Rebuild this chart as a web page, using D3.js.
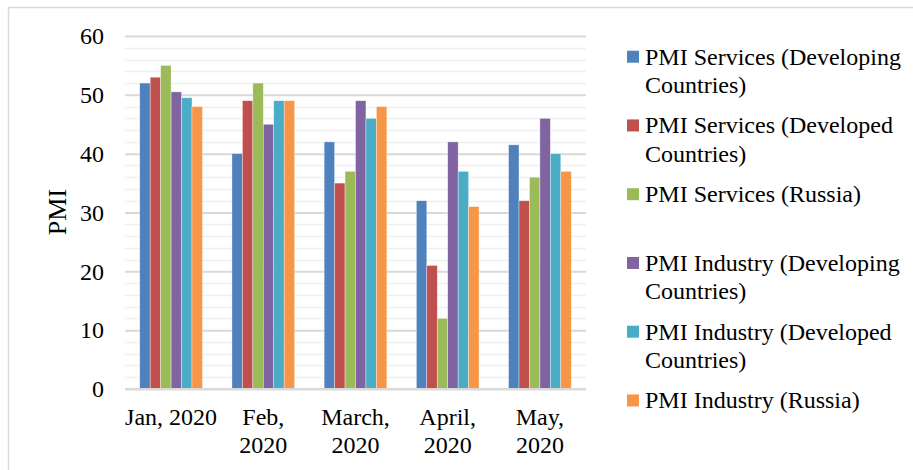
<!DOCTYPE html>
<html>
<head>
<meta charset="utf-8">
<script src="https://cdn.jsdelivr.net/npm/d3@7"></script>
<style>
  html, body { margin: 0; padding: 0; background: #ffffff; }
  svg text { font-family: "Liberation Serif", "Times New Roman", serif; }
</style>
</head>
<body>
<svg id="chart" width="913" height="470"></svg>
<script>
// Months shown along the x axis ("\n" marks a wrapped label line)
const categories = ["Jan, 2020", "Feb,\n2020", "March,\n2020", "April,\n2020", "May,\n2020"];

// Series names and their values per month
const seriesNames = [
  "PMI Services (Developing Countries)",
  "PMI Services (Developed Countries)",
  "PMI Services (Russia)",
  "PMI Industry (Developing Countries)",
  "PMI Industry (Developed Countries)",
  "PMI Industry (Russia)"
];
const servicesDeveloping = [52, 40, 42, 32, 41.5];
const servicesDeveloped  = [53, 49, 35, 21, 32];
const servicesRussia     = [55, 52, 37, 12, 36];
const industryDeveloping = [50.5, 45, 49, 42, 46];
const industryDeveloped  = [49.5, 49, 46, 37, 40];
const industryRussia     = [48, 49, 48, 31, 37];
const seriesValues = [servicesDeveloping, servicesDeveloped, servicesRussia,
                      industryDeveloping, industryDeveloped, industryRussia];

// Legend lines for each series
const legendLines = [
  ["PMI Services (Developing", "Countries)"],
  ["PMI Services (Developed", "Countries)"],
  ["PMI Services (Russia)"],
  ["PMI Industry (Developing", "Countries)"],
  ["PMI Industry (Developed", "Countries)"],
  ["PMI Industry (Russia)"]
];

const yTicks = [0, 10, 20, 30, 40, 50, 60];
const yLabel = "PMI";

const colors = ["#4F81BD", "#C0504D", "#9BBB59", "#8064A2", "#4BACC6", "#F79646"];

const svg = d3.select("#chart");

// outer frame
svg.append("rect")
  .attr("x", 8.5).attr("y", 7.5)
  .attr("width", 1000).attr("height", 1000)
  .attr("fill", "none").attr("stroke", "#d9d9d9").attr("stroke-width", 1.5);

const plot = { left: 125, right: 586, top: 36, bottom: 389 };

const y = d3.scaleLinear().domain([0, 60]).range([plot.bottom, plot.top]);
const x0 = d3.scaleBand().domain(d3.range(categories.length))
  .range([plot.left, plot.right]).paddingInner(0.32).paddingOuter(0.16);
const x1 = d3.scaleBand().domain(d3.range(seriesNames.length))
  .range([0, x0.bandwidth()]).padding(0);

// minor gridlines every 2 units
const minor = d3.range(0, 61, 2).filter(v => v % 10 !== 0);
svg.append("g").selectAll("line").data(minor).join("line")
  .attr("x1", plot.left).attr("x2", plot.right)
  .attr("y1", d => Math.round(y(d)) + 0.5).attr("y2", d => Math.round(y(d)) + 0.5)
  .attr("stroke", "#efefef").attr("stroke-width", 1.5);

// major gridlines and tick labels via axis
const yAxis = d3.axisLeft(y).tickValues(yTicks).tickSize(-(plot.right - plot.left)).tickPadding(21);
const gy = svg.append("g").attr("transform", `translate(${plot.left},0)`).call(yAxis);
gy.select(".domain").remove();
gy.selectAll(".tick line").attr("stroke", "#d9d9d9").attr("stroke-width", 2);
gy.selectAll(".tick text").attr("font-size", 24).attr("fill", "#000");

// bars
const groups = svg.append("g").selectAll("g").data(categories).join("g")
  .attr("transform", (d, i) => `translate(${x0(i)},0)`);
groups.selectAll("rect")
  .data((d, i) => seriesValues.map((vals, s) => ({ s, v: vals[i] })))
  .join("rect")
  .attr("x", d => x1(d.s))
  .attr("y", d => y(d.v))
  .attr("width", x1.bandwidth())
  .attr("height", d => y(0) - y(d.v))
  .attr("fill", d => colors[d.s])
  .attr("stroke", "#ffffff").attr("stroke-opacity", 0.6).attr("stroke-width", 0.6);

// baseline
svg.append("line")
  .attr("x1", plot.left).attr("x2", plot.right)
  .attr("y1", y(0)).attr("y2", y(0))
  .attr("stroke", "#d9d9d9").attr("stroke-width", 2);

// x axis labels
const xAxis = d3.axisBottom(x0).tickSize(0).tickFormat(() => "");
const gx = svg.append("g").attr("transform", `translate(0,${plot.bottom})`).call(xAxis);
gx.select(".domain").remove();
gx.selectAll(".tick").each(function(d) {
  const t = d3.select(this).append("text")
    .attr("text-anchor", "middle")
    .attr("font-size", 24).attr("fill", "#000");
  categories[d].split("\n").forEach((line, k) => {
    t.append("tspan").attr("x", 0).attr("y", 36 + k * 28).text(line);
  });
});

// y axis title
svg.append("text")
  .attr("transform", "translate(66,212) rotate(-90)")
  .attr("text-anchor", "middle")
  .attr("font-size", 26).attr("fill", "#000")
  .text(yLabel);

// legend
const legend = svg.append("g").selectAll("g").data(seriesNames).join("g")
  .attr("transform", (d, i) => `translate(627,${56.7 + i * 68.75})`);
legend.append("rect")
  .attr("x", 0).attr("y", -6).attr("width", 12).attr("height", 12)
  .attr("fill", (d, i) => colors[i]);
legend.append("text")
  .attr("font-size", 24).attr("fill", "#000")
  .each(function(d, i) {
    legendLines[i].forEach((line, k) => {
      d3.select(this).append("tspan").attr("x", 18).attr("y", 8 + k * 28.5).text(line);
    });
  });
</script>
</body>
</html>
